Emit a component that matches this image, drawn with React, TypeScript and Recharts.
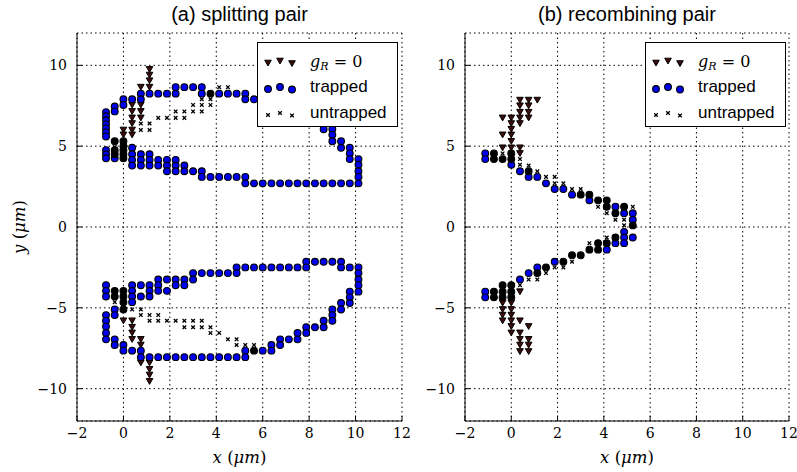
import React from 'react';
import { ScatterChart, Scatter, XAxis, YAxis, CartesianGrid, Legend, Label } from 'recharts';

// positions in µm, as [x, y]
const xTicks = [-2, 0, 2, 4, 6, 8, 10, 12];
const yTicks = [-10, -5, 0, 5, 10];
const legendLabels = ['g_R = 0', 'trapped', 'untrapped'];
const panelTitles = ['(a) splitting pair', '(b) recombining pair'];

// (a) splitting pair
const splitGR = [
  [1.125, 9.75], [1.125, 9.4], [1.125, 9.05], [1.125, 8.65], [0.75, 8.65],
  [0.375, 7.55], [0.75, 7.55], [0.375, 7.15], [0.75, 7.15], [0.375, 6.75], [0.75, 6.75],
  [0.375, 6.4], [0, 6.0], [0.375, 6.0], [0, 5.7], [0.375, 5.7],
  [0, -5.8], [0.375, -5.8], [0.375, -6.2], [0.375, -6.55], [0.375, -6.95], [0.75, -6.95],
  [0.75, -7.3], [0.75, -8.4], [1.125, -8.4], [1.125, -8.8], [1.125, -9.15], [1.125, -9.55],
];

const splitTrapped = [
  // upper loop
  [-0.75, 7.1], [-0.75, 6.85], [-0.75, 6.6], [-0.75, 6.35], [-0.75, 6.1], [-0.75, 5.85], [-0.75, 5.6],
  [-0.75, 4.75], [-0.75, 4.5], [-0.75, 4.25],
  [-0.375, 7.45], [-0.375, 7.15], [-0.375, 4.25],
  [0, 7.9], [0, 7.55],
  [0.375, 7.9], [0.375, 4.9], [0.375, 4.5], [0.375, 4.15], [0.375, 3.8],
  [0.75, 8.25], [0.75, 7.9], [0.75, 4.5], [0.75, 4.15], [0.75, 3.8],
  [1.125, 8.25], [1.125, 4.5], [1.125, 4.15], [1.125, 3.8],
  [1.5, 8.25], [1.5, 4.15], [1.5, 3.8],
  [1.875, 8.25], [1.875, 4.15], [1.875, 3.8], [1.875, 3.45],
  [2.25, 8.65], [2.25, 8.25], [2.25, 4.15], [2.25, 3.8], [2.25, 3.45],
  [2.625, 8.65], [2.625, 3.8], [2.625, 3.45],
  [3.0, 8.65], [3.0, 3.45],
  [3.375, 8.65], [3.375, 8.25], [3.375, 3.45], [3.375, 3.1],
  [3.75, 3.1], [4.125, 8.25], [4.125, 3.1], [4.5, 8.25], [4.5, 3.1], [4.875, 8.25], [4.875, 3.1],
  [5.25, 8.25], [5.25, 7.9], [5.25, 3.1], [5.25, 2.7], [5.625, 7.9], [5.625, 2.7],
  [6.0, 2.7], [6.375, 2.7], [6.75, 2.7], [7.125, 2.7], [7.5, 2.7], [7.875, 2.7], [8.25, 2.7],
  [8.625, 6.05], [8.625, 2.7], [9.0, 6.05], [9.0, 5.7], [9.0, 5.3], [9.0, 2.7],
  [9.375, 5.3], [9.375, 4.9], [9.375, 2.7], [9.75, 4.9], [9.75, 4.55], [9.75, 4.2], [9.75, 2.7],
  [10.125, 4.2], [10.125, 3.85], [10.125, 3.45], [10.125, 3.1], [10.125, 2.7],
  // lower loop
  [-0.75, -3.6], [-0.75, -3.95], [-0.75, -4.3], [-0.75, -5.45], [-0.75, -5.8], [-0.75, -6.15],
  [-0.75, -6.55], [-0.75, -6.95],
  [-0.375, -5.1], [-0.375, -5.45], [-0.375, -6.95], [-0.375, -7.3],
  [0, -7.3], [0, -7.65],
  [0.375, -3.6], [0.375, -3.95], [0.375, -4.3], [0.375, -4.65], [0.375, -7.65],
  [0.75, -3.6], [0.75, -4.3], [0.75, -7.65], [0.75, -8.05],
  [1.125, -3.6], [1.125, -3.95], [1.125, -4.3], [1.125, -8.05],
  [1.5, -3.25], [1.5, -3.6], [1.5, -3.95], [1.5, -8.05],
  [1.875, -3.25], [1.875, -3.95], [1.875, -8.05],
  [2.25, -3.25], [2.25, -3.6], [2.25, -8.05], [2.625, -3.25], [2.625, -3.6], [2.625, -8.05],
  [3.0, -2.85], [3.0, -3.25], [3.0, -8.05], [3.375, -2.85], [3.375, -8.05],
  [3.75, -2.85], [3.75, -8.05], [4.125, -2.85], [4.125, -8.05], [4.5, -2.85], [4.5, -8.05],
  [4.875, -2.5], [4.875, -2.85], [4.875, -8.05], [5.25, -2.5], [5.25, -7.65], [5.25, -8.05],
  [5.625, -2.5], [6.0, -2.5], [6.0, -7.65], [6.375, -2.5], [6.375, -7.3], [6.375, -7.65],
  [6.75, -2.5], [6.75, -6.95], [6.75, -7.3], [7.125, -2.5], [7.125, -6.95],
  [7.5, -2.5], [7.5, -6.55], [7.5, -6.95], [7.875, -2.15], [7.875, -2.5], [7.875, -6.2], [7.875, -6.55],
  [8.25, -2.15], [8.25, -6.2], [8.625, -2.15], [8.625, -5.8], [8.625, -6.2],
  [9.0, -2.15], [9.0, -5.1], [9.0, -5.45], [9.0, -5.8], [9.375, -2.15], [9.375, -2.5], [9.375, -4.7], [9.375, -5.1],
  [9.75, -2.5], [9.75, -4.0], [9.75, -4.35], [9.75, -4.7],
  [10.125, -2.5], [10.125, -2.85], [10.125, -3.25], [10.125, -3.6], [10.125, -4.0],
];

// trapped points drawn so densely they read as black
const splitDense = [
  [-0.375, 5.3], [0, 5.3], [0, 5.0], [0, 4.75], [0, 4.5], [0, 4.25], [-0.375, 4.75], [-0.375, 4.5],
  [3.75, 8.25],
  [-0.375, -3.95], [-0.375, -4.3], [0, -3.95], [0, -4.3], [0, -4.65], [0, -5.1], [5.625, -7.65],
];

const splitUntrapped = [
  [-0.375, 4.95], [0.75, 6.4], [0.75, 6.0], [1.125, 6.4], [1.125, 6.0], [1.5, 6.75], [1.875, 6.75],
  [2.25, 7.15], [2.25, 6.75], [2.625, 7.15], [2.625, 6.75], [3.0, 7.55], [3.0, 7.15],
  [3.375, 7.9], [3.375, 7.55], [3.375, 7.15], [3.75, 7.9], [3.75, 7.55], [4.125, 8.65], [4.5, 8.65],
  [-0.375, -4.65], [0.375, -5.1], [0.75, -5.1], [0.75, -5.45], [1.125, -5.45], [1.125, -5.8],
  [1.5, -5.45], [1.5, -5.8], [1.875, -5.8], [2.25, -5.8], [2.625, -5.8], [2.625, -6.2],
  [3.0, -5.8], [3.0, -6.2], [3.375, -5.8], [3.375, -6.2], [3.75, -6.2], [3.75, -6.55],
  [4.125, -6.55], [4.5, -6.95], [4.875, -6.95], [4.875, -7.3], [5.25, -7.3], [5.625, -7.3],
];

// (b) recombining pair
const recombGR = [
  [0.375, 7.85], [0.75, 7.85], [1.125, 7.85], [0.375, 7.5], [0.75, 7.5], [0.375, 7.1], [0.75, 7.1],
  [-0.375, 6.75], [0, 6.75], [0.375, 6.75], [0.75, 6.75], [0, 6.4], [0.375, 6.4], [0, 6.05],
  [-0.375, 5.7], [0, 5.7], [0, 5.3], [-0.375, 4.9], [0, 4.9], [0.375, 4.9], [0.375, 4.55],
  [0.375, -4.0], [-0.375, -4.7], [0, -4.7], [-0.375, -5.1], [0, -5.1], [-0.375, -5.45], [0, -5.45],
  [-0.375, -5.8], [0, -5.8], [0.375, -5.8], [0, -6.15], [0.75, -6.15], [0, -6.55], [0.375, -6.55],
  [0.375, -6.95], [0.75, -6.95], [0.375, -7.3], [0.75, -7.3], [0.375, -7.7], [0.75, -7.7],
];

const recombTrapped = [
  [-1.125, 4.55], [-1.125, 4.2], [0, 3.85], [0.375, 3.45], [0.75, 3.1], [1.125, 3.1], [1.5, 2.7],
  [1.875, 2.35], [2.25, 2.35], [2.625, 2.0], [3.375, 1.65], [4.5, 1.25], [4.875, 0.85], [5.25, 0.85], [5.25, 0.45],
  [4.875, -0.3], [4.875, -0.65], [4.875, -1.0], [5.25, -0.65], [4.5, -1.0], [4.125, -1.4],
  [1.875, -2.15], [1.125, -2.5], [0.75, -2.85], [0.375, -3.25], [-1.125, -4.0], [-1.125, -4.35],
];

const recombDense = [
  [-0.75, 4.55], [-0.75, 4.2], [-0.375, 4.2], [0, 4.55], [0, 4.2], [0.75, 3.45], [3.0, 2.0], [3.375, 2.0],
  [3.75, 1.65], [4.125, 1.65], [4.125, 1.25], [4.5, 0.85], [4.875, 1.25], [5.25, 0.1],
  [4.5, -0.65], [4.125, -1.0], [3.75, -1.0], [3.75, -1.4], [3.375, -1.4], [3.0, -1.75], [2.625, -1.75],
  [2.25, -2.15], [1.5, -2.5], [1.125, -2.85], [0, -3.6], [0, -4.0], [0, -4.35],
  [-0.375, -3.6], [-0.375, -4.0], [-0.375, -4.35], [-0.75, -4.0], [-0.75, -4.35],
];

const recombUntrapped = [
  [-0.375, 4.55], [0.375, 4.2], [0.375, 3.85], [0.75, 3.8], [1.125, 3.45], [1.5, 3.1], [1.875, 3.1],
  [1.875, 2.7], [2.25, 2.7], [2.625, 2.35], [3.0, 2.35], [3.75, 1.25], [4.125, 0.85], [4.5, 0.45],
  [4.875, 0.45], [4.875, 0.1], [5.25, 1.25],
  [4.125, -0.65], [3.375, -1.0], [2.625, -2.15], [2.25, -2.5], [1.875, -2.5], [1.5, -2.85],
  [1.125, -3.25], [0.75, -3.25], [0.375, -3.6],
];

const pts = (list: number[][]) => list.map(([x, y]) => ({ x, y }));

const TRI_FILL = '#3c0c0c';
const BLUE = '#0000f0';
const SERIF = '"DejaVu Serif", serif';
const SANS = '"Liberation Sans", Arial, sans-serif';

const minus = (v: number) => (v < 0 ? `\u2212${-v}` : `${v}`);

const triPath = (cx: number, cy: number) =>
  `M${cx - 3.3},${cy - 2.8}L${cx + 3.3},${cy - 2.8}L${cx},${cy + 3}Z`;
const crossPath = (cx: number, cy: number) =>
  `M${cx - 1.8},${cy - 1.8}L${cx + 1.8},${cy + 1.8}M${cx - 1.8},${cy + 1.8}L${cx + 1.8},${cy - 1.8}`;

const Tri = (p: any) => <path d={triPath(p.cx, p.cy)} fill={TRI_FILL} stroke="#000" strokeWidth={1} />;
const BlueDot = (p: any) => <circle cx={p.cx} cy={p.cy} r={3.4} fill={BLUE} stroke="#000" strokeWidth={1.1} />;
const BlackDot = (p: any) => <circle cx={p.cx} cy={p.cy} r={3.4} fill="#000" stroke="#000" strokeWidth={1.1} />;
const Cross = (p: any) => <path d={crossPath(p.cx, p.cy)} stroke="#000" strokeWidth={1.3} fill="none" />;

const LegendBox = () => {
  const xs = [11, 23, 35];
  const jitter = [1, -1, 1.5];
  const [sym, rest] = legendLabels[0].split('_');
  const [sub, ...eq] = rest.split(' ');
  return (
    <svg width={141} height={85} style={{ display: 'block' }}>
      <rect x={0.5} y={0.5} width={140} height={84} fill="#fff" stroke="#000" strokeWidth={1} />
      {xs.map((x, i) => (
        <path key={'t' + i} d={triPath(x, 20 + jitter[i])} fill={TRI_FILL} stroke="#000" strokeWidth={1} />
      ))}
      {xs.map((x, i) => (
        <circle key={'c' + i} cx={x} cy={46 + jitter[i]} r={3.4} fill={BLUE} stroke="#000" strokeWidth={1.1} />
      ))}
      {xs.map((x, i) => (
        <path key={'x' + i} d={crossPath(x, 72 + jitter[i])} stroke="#000" strokeWidth={1.3} />
      ))}
      <text x={53} y={25} fontFamily={SERIF} fontSize={16} fontStyle="italic">
        {sym}
        <tspan fontSize={11} dy={3}>{sub}</tspan>
        <tspan dy={-3} fontStyle="normal">{' ' + eq.join(' ')}</tspan>
      </text>
      <text x={53} y={50} fontFamily={SANS} fontSize={17}>{legendLabels[1]}</text>
      <text x={53} y={76} fontFamily={SANS} fontSize={17}>{legendLabels[2]}</text>
    </svg>
  );
};

type PanelProps = {
  title: string;
  gr: number[][];
  trapped: number[][];
  dense: number[][];
  untrapped: number[][];
  left: number;
  width: number;
  yAxisWidth: number;
  legendLeft: number;
};

function Panel({ title, gr, trapped, dense, untrapped, left, width, yAxisWidth, legendLeft }: PanelProps) {
  const plotLeft = yAxisWidth;
  const plotRight = width - 8;
  return (
    <div style={{ position: 'absolute', left, top: 0, width, height: 472 }}>
      <div
        style={{
          position: 'absolute', left: plotLeft, width: plotRight - plotLeft, top: 1,
          textAlign: 'center', fontFamily: SANS, fontSize: 20, lineHeight: '26px', color: '#000',
        }}
      >
        {title}
      </div>
      <ScatterChart width={width} height={472} margin={{ top: 33, right: 8, bottom: 0, left: 0 }}>
        <CartesianGrid stroke="#000" strokeDasharray="1.5 3" strokeWidth={1} />
        <XAxis
          type="number" dataKey="x" domain={[-2, 12]} ticks={xTicks} height={51}
          tickSize={-5} tickMargin={12} tickFormatter={minus}
          axisLine={{ stroke: '#000' }} tickLine={{ stroke: '#000' }}
          tick={{ fill: '#000', fontFamily: SERIF, fontSize: 14 }}
        >
          <Label
            content={(p: any) => {
              const vb = p.viewBox || {};
              return (
                <text x={vb.x + vb.width / 2} y={vb.y + 42} textAnchor="middle" fontFamily={SERIF} fontSize={16.5}>
                  <tspan fontStyle="italic">x</tspan> (<tspan fontStyle="italic">μm</tspan>)
                </text>
              );
            }}
          />
        </XAxis>
        <YAxis
          type="number" dataKey="y" domain={[-12, 12]} ticks={yTicks} width={yAxisWidth}
          tickSize={-5} tickMargin={15} tickFormatter={minus}
          axisLine={{ stroke: '#000' }} tickLine={{ stroke: '#000' }}
          tick={{ fill: '#000', fontFamily: SERIF, fontSize: 14 }}
        >
          {left === 0 ? (
            <Label
              content={(p: any) => {
                const vb = p.viewBox || {};
                const cy = vb.y + vb.height / 2;
                return (
                  <text x={25} y={cy} transform={`rotate(-90 25 ${cy})`} textAnchor="middle" fontFamily={SERIF} fontSize={16.5}>
                    <tspan fontStyle="italic">y</tspan> (<tspan fontStyle="italic">μm</tspan>)
                  </text>
                );
              }}
            />
          ) : null}
        </YAxis>
        <XAxis
          xAxisId="top" orientation="top" type="number" dataKey="x" domain={[-2, 12]} ticks={xTicks}
          height={0} tick={false} tickSize={-5} axisLine={{ stroke: '#000' }} tickLine={{ stroke: '#000' }}
        />
        <YAxis
          yAxisId="right" orientation="right" type="number" dataKey="y" domain={[-12, 12]} ticks={yTicks}
          width={0} tick={false} tickSize={-5} axisLine={{ stroke: '#000' }} tickLine={{ stroke: '#000' }}
        />
        <Scatter name="gR" data={pts(gr)} shape={Tri} isAnimationActive={false} />
        <Scatter name="trapped" data={pts(trapped)} shape={BlueDot} isAnimationActive={false} />
        <Scatter name="dense" data={pts(dense)} shape={BlackDot} isAnimationActive={false} legendType="none" />
        <Scatter name="untrapped" data={pts(untrapped)} shape={Cross} isAnimationActive={false} />
        <Legend
          layout="vertical" align="center" verticalAlign="middle"
          content={() => <LegendBox />}
          wrapperStyle={{ left: legendLeft, top: 42, width: 141, height: 85 }}
        />
      </ScatterChart>
    </div>
  );
}

export default function App() {
  return (
    <div style={{ position: 'absolute', left: 0, top: 0, width: 797, height: 472, background: '#fff' }}>
      <Panel
        title={panelTitles[0]} gr={splitGR} trapped={splitTrapped} dense={splitDense} untrapped={splitUntrapped}
        left={0} width={410} yAxisWidth={77} legendLeft={257}
      />
      <Panel
        title={panelTitles[1]} gr={recombGR} trapped={recombTrapped} dense={recombDense} untrapped={recombUntrapped}
        left={400} width={397} yAxisWidth={65} legendLeft={245}
      />
    </div>
  );
}
